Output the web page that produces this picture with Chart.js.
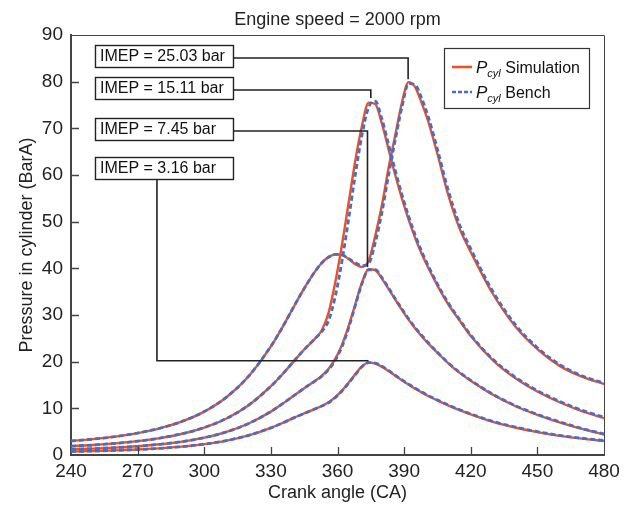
<!DOCTYPE html>
<html>
<head>
<meta charset="utf-8">
<script src="https://cdn.jsdelivr.net/npm/chart.js@4.4.1/dist/chart.umd.min.js"></script>
<style>
  html, body { margin: 0; padding: 0; background: #fff; }
  #wrap { width: 636px; height: 505px; }
</style>
</head>
<body>
<div id="wrap"><canvas id="pcyl" width="636" height="505"></canvas></div>
<script>
// crank angle samples (deg CA)
const angles = [240,250,260,270,280,290,300,310,320,330,335,340,345,350,353,356,359,362,365,368,371,374,377,380,383,386,389,392,395,398,401,405,410,415,420,430,440,450,460,470,480];

// cylinder pressure, simulation (bar)
const simImep25 = [3.0,3.4,3.94,4.69,5.72,7.18,9.29,12.37,16.87,23.27,27.2,31.5,35.7,39.4,41.2,42.4,43.0,42.9,42.0,40.9,40.3,41.6,47.0,53.5,61.5,68.5,75.5,79.9,78.8,75.3,71.3,64.5,55.5,48.5,43.5,34.5,27.6,22.7,19.1,16.8,15.2];
const simImep15 = [1.9,2.15,2.5,2.97,3.62,4.55,5.88,7.83,10.68,14.74,17.2,19.9,22.6,25.0,26.8,30.5,37.0,45.0,54.0,63.0,70.5,75.5,75.2,71.0,65.5,60.0,55.0,50.5,46.5,43.0,40.0,36.3,32.2,28.8,25.5,20.3,16.5,13.6,11.3,9.4,7.9];
const simImep7 = [1.2,1.36,1.58,1.87,2.29,2.87,3.71,4.95,6.75,9.3,10.9,12.6,14.3,15.9,17.0,18.5,20.6,23.6,27.6,32.3,36.9,39.8,39.6,37.8,35.6,33.3,31.1,29.0,27.1,25.4,23.8,21.9,19.6,17.6,15.9,12.9,10.5,8.6,7.0,5.6,4.4];
const simImep3 = [0.75,0.85,0.99,1.17,1.43,1.8,2.32,3.09,4.22,5.82,6.8,7.9,8.9,9.9,10.5,11.3,12.4,13.8,15.5,17.3,19.0,19.8,19.6,18.9,18.0,17.0,16.0,15.1,14.2,13.4,12.6,11.7,10.6,9.6,8.7,7.1,5.9,4.9,4.1,3.5,3.0];

// cylinder pressure, bench (bar)
const benchImep25 = [3.0,3.4,3.95,4.7,5.73,7.2,9.3,12.4,16.9,23.3,27.2,31.5,35.7,39.4,41.2,42.4,43.0,42.9,42.1,41.2,40.6,41.0,45.5,52.0,60.0,67.5,74.5,79.6,79.3,76.3,72.3,65.5,56.5,49.3,44.2,35.0,28.0,23.0,19.4,17.0,15.4];
const benchImep15 = [1.9,2.15,2.5,2.97,3.62,4.55,5.88,7.83,10.68,14.74,17.2,19.9,22.6,25.0,26.5,28.8,34.0,41.5,50.5,60.0,68.5,74.5,75.8,72.0,66.5,61.0,55.8,51.2,47.1,43.5,40.4,36.6,32.5,29.0,25.7,20.5,16.7,13.8,11.5,9.6,8.1];
const benchImep7 = [1.2,1.36,1.58,1.87,2.29,2.87,3.71,4.95,6.75,9.3,10.9,12.6,14.3,15.9,16.9,18.3,20.3,23.2,27.2,32.0,36.7,39.7,39.7,38.0,35.8,33.5,31.3,29.2,27.3,25.6,24.0,22.0,19.7,17.7,16.0,13.0,10.6,8.7,7.1,5.7,4.5];
const benchImep3 = [0.75,0.85,0.99,1.17,1.43,1.8,2.32,3.09,4.22,5.82,6.8,7.9,8.9,9.9,10.5,11.2,12.3,13.7,15.4,17.2,18.9,19.8,19.7,19.0,18.1,17.1,16.1,15.2,14.3,13.5,12.7,11.8,10.7,9.7,8.8,7.2,6.0,5.0,4.2,3.6,3.1];

const xTicks = [240,270,300,330,360,390,420,450,480];
const yTicks = [0,10,20,30,40,50,60,70,80,90];

// IMEP call-outs: text, box level (bar), where the leader lands (CA, bar)
const imepText = ['IMEP = 25.03 bar','IMEP = 15.11 bar','IMEP = 7.45 bar','IMEP = 3.16 bar'];
const imepBoxLevel = [85.5, 78.6, 69.8, 61.5];
const imepPeakAngle = [391.8, 375.0, 373.5, 374.0];
const imepPeakLevel = [80.5, 76.5, 40.3, 20.2];
const imepDropAngle = 278.7; // lowest call-out runs down before turning right

const RED = '#e8512a';
const BLUE = '#4a6cc4';
const FONT = '"Liberation Sans", Arial, sans-serif';
Chart.defaults.font.family = FONT;
Chart.defaults.color = '#222';

function pts(vals) { return angles.map((a, i) => ({x: a, y: vals[i]})); }

function simSet(vals) {
  return {data: pts(vals), borderColor: RED, borderWidth: 2.4, pointRadius: 0,
          cubicInterpolationMode: 'monotone', fill: false};
}
function benchSet(vals) {
  return {data: pts(vals), borderColor: BLUE, borderWidth: 2.8, borderDash: [5, 3], pointRadius: 0,
          cubicInterpolationMode: 'monotone', fill: false};
}

const overlay = {
  id: 'overlay',
  afterDraw(chart) {
    const {ctx, chartArea: a, scales: {x, y}} = chart;
    ctx.save();
    // title over the plot area
    ctx.fillStyle = '#222';
    ctx.font = '18px ' + FONT;
    ctx.textAlign = 'center';
    ctx.textBaseline = 'middle';
    ctx.fillText('Engine speed = 2000 rpm', (a.left + a.right) / 2, 20);
    ctx.textAlign = 'left';

    // top + right frame
    ctx.strokeStyle = '#444';
    ctx.lineWidth = 1;
    ctx.beginPath();
    ctx.moveTo(a.left, a.top + 0.5); ctx.lineTo(a.right + 0.5, a.top + 0.5); ctx.lineTo(a.right + 0.5, a.bottom);
    ctx.stroke();
    // inward ticks
    ctx.lineWidth = 1.3;
    ctx.beginPath();
    xTicks.slice(1, -1).forEach(v => {
      const px = Math.round(x.getPixelForValue(v)) + 0.5;
      ctx.moveTo(px, a.bottom); ctx.lineTo(px, a.bottom - 8);
    });
    yTicks.slice(1, -1).forEach(v => {
      const py = Math.round(y.getPixelForValue(v)) + 0.5;
      ctx.moveTo(a.left, py); ctx.lineTo(a.left + 8, py);
    });
    ctx.stroke();

    // IMEP boxes and leaders
    ctx.font = '16px ' + FONT;
    ctx.textBaseline = 'middle';
    const boxLeft = x.getPixelForValue(250.8);
    const boxW = 138, boxH = 22;
    imepText.forEach((t, i) => {
      const cy = Math.round(y.getPixelForValue(imepBoxLevel[i]));
      ctx.fillStyle = '#fff';
      ctx.fillRect(boxLeft, cy - boxH / 2, boxW, boxH);
      ctx.strokeStyle = '#222';
      ctx.lineWidth = 1.4;
      ctx.strokeRect(boxLeft + 0.5, cy - boxH / 2 + 0.5, boxW, boxH);
      ctx.fillStyle = '#111';
      ctx.fillText(t, boxLeft + 5, cy + 1);
      const px = x.getPixelForValue(imepPeakAngle[i]);
      const py = y.getPixelForValue(imepPeakLevel[i]);
      ctx.lineWidth = 1.6;
      ctx.beginPath();
      if (i < 3) {
        ctx.moveTo(boxLeft + boxW, cy + 2);
        ctx.lineTo(px, cy + 2);
        ctx.lineTo(px, py);
      } else {
        const dx = x.getPixelForValue(imepDropAngle);
        ctx.moveTo(dx, cy + boxH / 2);
        ctx.lineTo(dx, py);
        ctx.lineTo(px, py);
      }
      ctx.stroke();
    });

    // legend
    const lw = 145, lh = 60;
    const lx = a.right - 15 - lw, ly = a.top + 13;
    ctx.fillStyle = '#fff';
    ctx.fillRect(lx, ly, lw, lh);
    ctx.strokeStyle = '#333';
    ctx.lineWidth = 1.2;
    ctx.strokeRect(lx + 0.5, ly + 0.5, lw, lh);
    const rows = [{c: RED, dash: [], name: ' Simulation'}, {c: BLUE, dash: [4, 2], name: ' Bench'}];
    rows.forEach((r, k) => {
      const ry = ly + 19 + k * 25;
      ctx.strokeStyle = r.c;
      ctx.lineWidth = 2.6;
      ctx.setLineDash(r.dash);
      ctx.beginPath(); ctx.moveTo(lx + 8, ry); ctx.lineTo(lx + 28, ry); ctx.stroke();
      ctx.setLineDash([]);
      ctx.fillStyle = '#111';
      ctx.textBaseline = 'alphabetic';
      let tx = lx + 32;
      ctx.font = 'italic 17px ' + FONT;
      ctx.fillText('P', tx, ry + 6);
      tx += ctx.measureText('P').width;
      ctx.font = 'italic 11px ' + FONT;
      ctx.fillText('cyl', tx, ry + 10);
      tx += ctx.measureText('cyl').width;
      ctx.font = '16px ' + FONT;
      ctx.fillText(r.name, tx, ry + 6);
    });
    ctx.restore();
  }
};

new Chart(document.getElementById('pcyl'), {
  type: 'line',
  data: {
    // bench listed first so its dashes sit on top of the simulation lines
    datasets: [
      benchSet(benchImep25), benchSet(benchImep15), benchSet(benchImep7), benchSet(benchImep3),
      simSet(simImep25), simSet(simImep15), simSet(simImep7), simSet(simImep3)
    ]
  },
  options: {
    responsive: false,
    animation: false,
    layout: {padding: {top: 35, right: 32, bottom: 0, left: 0}},
    plugins: {
      legend: {display: false},
      tooltip: {enabled: false},
      title: {display: false}
    },
    scales: {
      x: {
        type: 'linear', min: 240, max: 480,
        afterBuildTicks: s => { s.ticks = xTicks.map(v => ({value: v})); },
        afterFit: s => { s.height = 50; },
        grid: {display: false, drawTicks: false},
        border: {display: true, color: '#444', width: 2},
        ticks: {font: {size: 19}, padding: 5, maxRotation: 0, color: '#222'},
        title: {display: true, text: 'Crank angle (CA)', font: {size: 18}, color: '#222', padding: {top: 0, bottom: 1}}
      },
      y: {
        type: 'linear', min: 0, max: 90,
        afterBuildTicks: s => { s.ticks = yTicks.map(v => ({value: v})); },
        afterFit: s => { s.width = 71; },
        grid: {display: false, drawTicks: false},
        border: {display: true, color: '#444', width: 2},
        ticks: {font: {size: 19}, padding: 8, color: '#222'},
        title: {display: true, text: 'Pressure in cylinder (BarA)', font: {size: 18}, color: '#222', padding: {top: 16, bottom: 0}}
      }
    }
  },
  plugins: [overlay]
});
</script>
</body>
</html>
